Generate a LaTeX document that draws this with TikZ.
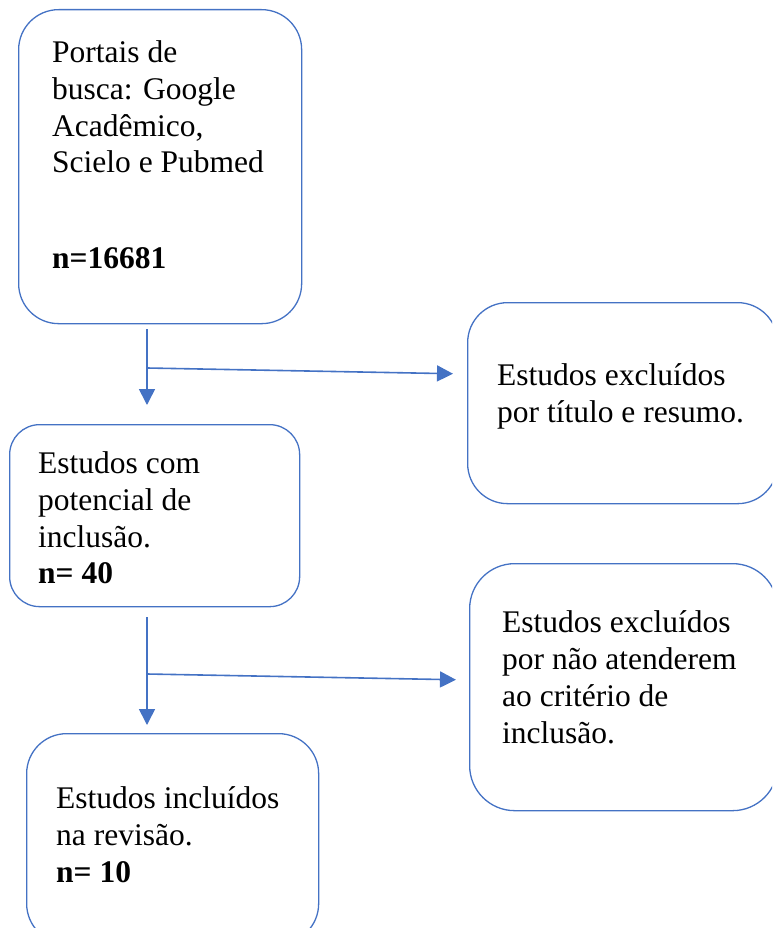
\documentclass[tikz,border=0pt]{standalone}
\usepackage{fontspec}
\setmainfont{Liberation Serif}
\usetikzlibrary{arrows.meta}
\definecolor{ob}{HTML}{4472C4}
\begin{document}
\begin{tikzpicture}[x=1pt,y=-1pt,
  box/.style={draw=ob, line width=1.3pt, rounded corners=#1, inner sep=0pt, anchor=north west},
  txt/.style={anchor=base west, align=left, inner sep=0pt, font=\fontsize{31.5}{36.7}\selectfont},
  num/.style={txt, font=\fontsize{31.5}{36.7}\selectfont\bfseries},
  conn/.style={draw=ob, line width=1.6pt},
  arr/.style={conn, -{Triangle[width=16pt,length=16pt]}}]
\useasboundingbox (0,0) rectangle (772,928);
\clip (0,0) rectangle (772,928);
% boxes
\node[box=40pt, minimum width=283pt, minimum height=314pt] (b1) at (18,9) {};
\node[box=30pt, minimum width=290pt, minimum height=182pt] (b2) at (9,424) {};
\node[box=40pt, minimum width=292pt, minimum height=210pt] (b3) at (26,733) {};
\node[box=40pt, minimum width=310pt, minimum height=201pt] (r1) at (467,302) {};
\node[box=45pt, minimum width=308pt, minimum height=247pt] (r2) at (469,563) {};
% texts (anchored at the baseline of the last line)
\node[txt] (t1) at (52,173) {Portais de\\busca: Google\\Acadêmico,\\Scielo e Pubmed};
\node[num] (n1) at (52,268) {n=16681};
\node[txt] (t2) at (38,547) {Estudos com\\potencial de\\inclusão.};
\node[num] (n2) at (38,583) {n= 40};
\node[txt] (t3) at (56,845) {Estudos incluídos\\na revisão.};
\node[num] (n3) at (56,882) {n= 10};
\node[txt] (t4) at (497,422) {Estudos excluídos\\por título e resumo.};
\node[txt, font=\fontsize{31.5}{37}\selectfont] (t5) at (502,743) {Estudos excluídos\\por não atenderem\\ao critério de\\inclusão.};
% connectors
\coordinate (j1) at (147,368);
\coordinate (j2) at (147,674);
\draw[arr, shorten <=5pt, shorten >=19pt] (b1.south -| j1) -- (b2.north -| j1);
\draw[arr, shorten >=14pt] (j1) -- ([yshift=-1pt]r1.west |- 0,373);
\draw[arr, shorten <=10pt, shorten >=8pt] (b2.south -| j2) -- (b3.north -| j2);
\draw[arr, shorten >=13pt] (j2) -- ([yshift=-1pt]r2.west |- 0,679);
\end{tikzpicture}
\end{document}
